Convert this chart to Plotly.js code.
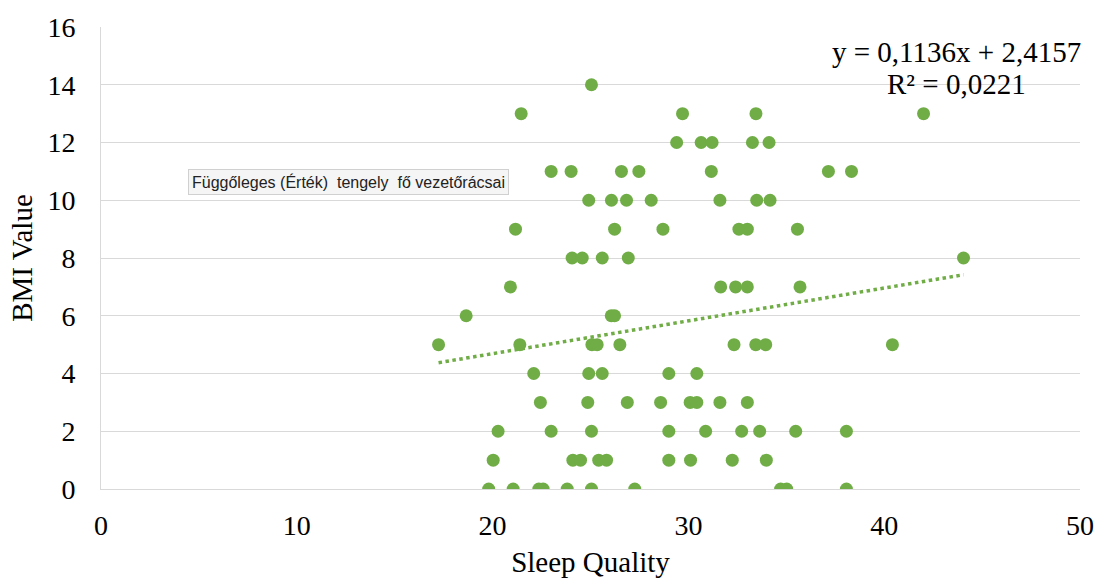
<!DOCTYPE html>
<html>
<head>
<meta charset="utf-8">
<script src="https://cdn.plot.ly/plotly-3.0.1.min.js"></script>
<style>html,body{margin:0;padding:0;background:#fff;}#chart{width:1100px;height:578px;}</style>
</head>
<body>
<div id="chart"></div>
<script>
// Sleep Quality (x) and BMI Value (y)
var sleepQuality = [
  25.05,
  21.46, 29.70, 33.45, 42.01,
  29.40, 30.65, 31.21, 33.27, 34.12,
  22.99, 24.01, 26.58, 27.47, 31.17, 37.15, 38.33,
  24.91, 26.07, 26.84, 28.10, 31.61, 33.49, 34.17,
  21.17, 26.23, 28.70, 32.58, 33.01, 35.57,
  24.06, 24.58, 25.60, 26.93, 44.05,
  20.91, 31.65, 32.41, 33.01, 35.70,
  18.65, 26.06, 26.23,
  17.24, 21.39, 25.07, 25.34, 26.50, 32.33, 33.44, 33.95, 40.42,
  22.10, 24.91, 25.60, 29.00, 30.43,
  22.44, 24.86, 26.88, 28.58, 30.09, 30.43, 31.61, 33.01,
  20.28, 22.99, 25.05, 29.00, 30.88, 32.72, 33.64, 35.48, 38.07,
  20.03, 24.10, 24.49, 25.42, 25.82, 29.00, 30.11, 32.24, 33.98,
  19.80, 21.05, 22.36, 22.58, 23.81, 25.05, 27.26, 34.71, 35.02, 38.07
];
var bmiValue = [
  14,
  13, 13, 13, 13,
  12, 12, 12, 12, 12,
  11, 11, 11, 11, 11, 11, 11,
  10, 10, 10, 10, 10, 10, 10,
  9, 9, 9, 9, 9, 9,
  8, 8, 8, 8, 8,
  7, 7, 7, 7, 7,
  6, 6, 6,
  5, 5, 5, 5, 5, 5, 5, 5, 5,
  4, 4, 4, 4, 4,
  3, 3, 3, 3, 3, 3, 3, 3,
  2, 2, 2, 2, 2, 2, 2, 2, 2,
  1, 1, 1, 1, 1, 1, 1, 1, 1,
  0, 0, 0, 0, 0, 0, 0, 0, 0, 0
];
// Linear trendline coefficients as printed on the chart
var slope = 0.1136;
var intercept = 2.4157;
var equationText = "y = 0,1136x + 2,4157";
var r2Text = "R² = 0,0221";
var tooltipText = "Függőleges (Érték)&nbsp;&nbsp;tengely&nbsp;&nbsp;fő vezetőrácsai";
var xTicks = [0, 10, 20, 30, 40, 50];
var yTicks = [0, 2, 4, 6, 8, 10, 12, 14, 16];

var xMin = Math.min.apply(null, sleepQuality);
var xMax = Math.max.apply(null, sleepQuality);
var trendX = [xMin, xMax];
var trendY = trendX.map(function(v){ return slope * v + intercept; });

var green = '#70ad47';
var serif = 'Liberation Serif, Times New Roman, serif';

var data = [
  {
    type: 'scatter', mode: 'lines', x: trendX, y: trendY,
    line: {color: green, width: 3.5, dash: 'dot'}, hoverinfo: 'skip', showlegend: false
  },
  {
    type: 'scatter', mode: 'markers', x: sleepQuality, y: bmiValue,
    marker: {color: green, size: 13}, showlegend: false
  }
];

var layout = {
  width: 1100, height: 578,
  margin: {l: 101, r: 20, t: 27, b: 89},
  paper_bgcolor: '#fff', plot_bgcolor: '#fff',
  font: {family: serif, color: '#000', size: 28},
  xaxis: {
    range: [0, 50], tickvals: xTicks, showgrid: false, zeroline: false,
    showline: true, linecolor: '#d9d9d9', linewidth: 1,
    ticks: 'outside', ticklen: 11, tickcolor: 'rgba(0,0,0,0)',
    tickfont: {family: serif, size: 28, color: '#000'},
    title: {text: 'Sleep Quality', font: {family: serif, size: 29, color: '#000'}, standoff: 13}
  },
  yaxis: {
    range: [0, 16], tickvals: yTicks, showgrid: true, gridcolor: '#d9d9d9', gridwidth: 1,
    zeroline: false, showline: true, linecolor: '#d9d9d9', linewidth: 1,
    ticks: 'outside', ticklen: 19, tickcolor: 'rgba(0,0,0,0)',
    tickfont: {family: serif, size: 28, color: '#000'},
    title: {text: 'BMI Value', font: {family: serif, size: 29, color: '#000'}, standoff: 6}
  },
  annotations: [
    {xref: 'x', yref: 'y', x: 43.7, y: 15.13, text: equationText, showarrow: false,
     xanchor: 'center', yanchor: 'middle', font: {family: serif, size: 29, color: '#000'}},
    {xref: 'x', yref: 'y', x: 43.7, y: 14.03, text: r2Text, showarrow: false,
     xanchor: 'center', yanchor: 'middle', font: {family: serif, size: 29, color: '#000'}},
    {xref: 'paper', yref: 'paper', x: (348.5 - 101) / 979, y: (489 - 181.5) / 462, text: tooltipText,
     showarrow: false, xanchor: 'center', yanchor: 'middle',
     bgcolor: '#f5f5f5', bordercolor: '#d0d0d0', borderwidth: 1, borderpad: 3,
     font: {family: 'Liberation Sans, Arial, sans-serif', size: 16, color: '#222'}}
  ]
};

Plotly.newPlot('chart', data, layout, {displayModeBar: false, staticPlot: true});
</script>
</body>
</html>
